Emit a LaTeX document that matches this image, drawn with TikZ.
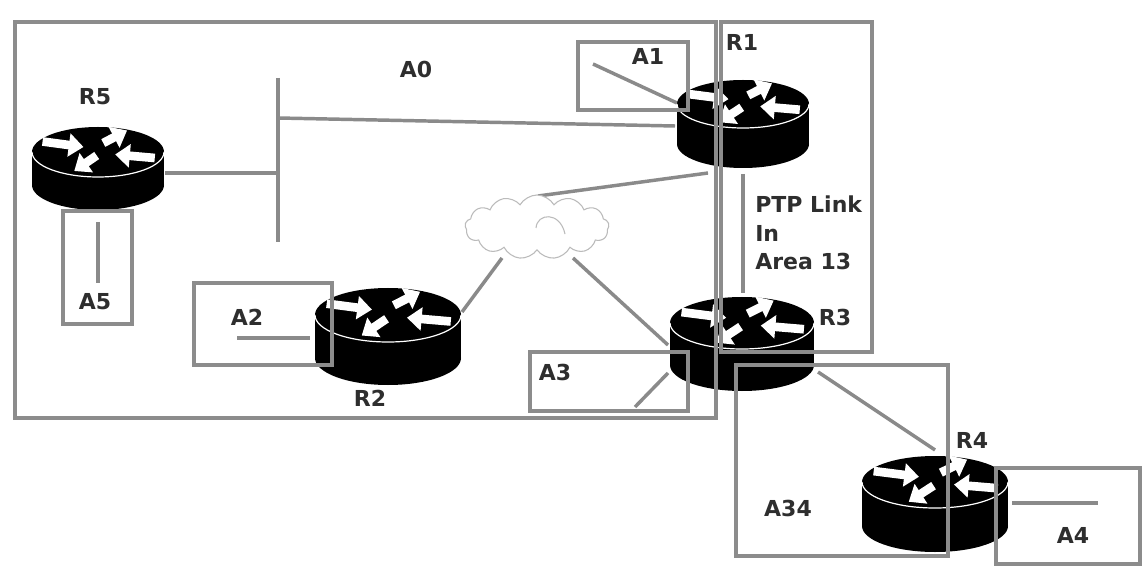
\documentclass[tikz,border=0pt]{standalone}
\usepackage{fontspec}
\usetikzlibrary{shapes.symbols,arrows.meta}
\newfontfamily\lab{DejaVu Sans}
\definecolor{boxgray}{HTML}{8C8C8C}
\definecolor{linegray}{HTML}{8A8A8A}
\definecolor{txt}{HTML}{2E2E2E}
\definecolor{cloudline}{HTML}{BBBBBB}
\tikzset{
  areabox/.style={draw=boxgray,line width=2.4pt},
  conn/.style={draw=linegray,line width=2.6pt},
  rarrow/.style={white,line width=6.5pt,-{Triangle[width=17pt,length=11pt]}},
  lbl/.style={inner sep=0pt,text=txt,font=\lab\bfseries\fontsize{16.5}{19}\selectfont},
}
\newcommand\drawrouter[6]{% name cx cy rx ry h
  \coordinate (#1) at (#2,#3);
  \begin{scope}[shift={(#2,#3)}]
    \fill[black] (0,#6) ellipse[x radius=#4,y radius=#5];
    \fill[black] (-#4,0) rectangle (#4,#6);
    \fill[black] (0,0) ellipse[x radius=#4,y radius=#5];
    \draw[white,line width=0.9pt] (-#4,0) arc[start angle=180,end angle=0,x radius=#4,y radius=#5];
    \begin{scope}[xscale=#4,yscale=#5]
      \draw[rarrow] (-0.84,-0.42) -- (-0.22,-0.20);
      \draw[rarrow] (0.08,-0.36) -- (0.44,-0.86);
      \draw[rarrow] (0.86,0.24) -- (0.26,0.10);
      \draw[rarrow] (-0.02,0.14) -- (-0.36,0.76);
    \end{scope}
  \end{scope}}
\begin{document}
\begin{tikzpicture}[x=0.75pt,y=-0.75pt]
\useasboundingbox (0,0) rectangle (1148,573);
\fill[white] (0,0) rectangle (1148,573);

% connector end points
\coordinate (r5out) at (165,173);
\coordinate (busm) at (278,173);
\coordinate (bustop) at (278,78);
\coordinate (busbot) at (278,242);
\coordinate (busr1) at (278,118);
\coordinate (r1w) at (675,126);
\coordinate (a1in) at (593,64);
\coordinate (r1a1) at (677,103);
\coordinate (cloudtop) at (538,196);
\coordinate (r1s) at (708,173);
\coordinate (cloudsw) at (502,258);
\coordinate (r2ne) at (462,312);
\coordinate (cloudse) at (573,258);
\coordinate (r3nw) at (668,345);
\coordinate (a3in) at (635,407);
\coordinate (r3sw) at (668,373);
\coordinate (ptptop) at (743,174);
\coordinate (ptpbot) at (743,293);
\coordinate (r3se) at (818,372);
\coordinate (r4nw) at (935,450);
\coordinate (r4e) at (1012,503);
\coordinate (a4in) at (1098,503);
\coordinate (a2in) at (237,338);
\coordinate (r2w) at (310,338);
\coordinate (r5s) at (98,222);
\coordinate (a5in) at (98,283);

% connectors
\draw[conn] (r5out) -- (busm);
\draw[conn] (bustop) -- (busbot);
\draw[conn] (busr1) -- (r1w);
\draw[conn] (a1in) -- (r1a1);
\draw[conn] (cloudtop) -- (r1s);
\draw[conn] (cloudsw) -- (r2ne);
\draw[conn] (cloudse) -- (r3nw);
\draw[conn] (a3in) -- (r3sw);
\draw[conn] (ptptop) -- (ptpbot);
\draw[conn] (r3se) -- (r4nw);
\draw[conn] (r4e) -- (a4in);
\draw[conn] (a2in) -- (r2w);
\draw[conn] (r5s) -- (a5in);

% cloud
\node[cloud, cloud puffs=13, cloud puff arc=120, aspect=2.3, draw=cloudline, fill=white,
      line width=0.8pt, minimum width=108pt, minimum height=48pt, inner sep=0pt] (cloud) at (537,227) {};
\draw[cloudline,line width=0.8pt] (536,228) .. controls (537,213) and (560,211) .. (565,234);

% routers
\drawrouter{R5}{98}{152}{66}{25}{33}
\drawrouter{R1}{743}{104}{66}{24}{40}
\drawrouter{R2}{388}{315}{73}{27}{43}
\drawrouter{R3}{742}{323}{72}{26}{42}
\drawrouter{R4}{935}{482}{73}{26}{44}

% area boxes
\draw[areabox] (15,22) rectangle (716,418);
\draw[areabox] (721,22) rectangle (872,352);
\draw[areabox] (578,42) rectangle (688,110);
\draw[areabox] (63,211) rectangle (132,324);
\draw[areabox] (194,283) rectangle (332,365);
\draw[areabox] (530,352) rectangle (688,411);
\draw[areabox] (736,365) rectangle (948,556);
\draw[areabox] (996,468) rectangle (1140,564);

% labels
\node[lbl] (tR5) at (95,97) {R5};
\node[lbl] (tA0) at (416,69) {A0};
\node[lbl] (tA1) at (648,56) {A1};
\node[lbl] (tR1) at (742,42) {R1};
\node[lbl,anchor=base west] (tP1) at (755,213) {PTP Link};
\node[lbl,anchor=base west] (tP2) at (755,242) {In};
\node[lbl,anchor=base west] (tP3) at (755,270) {Area 13};
\node[lbl] (tR3) at (835,317) {R3};
\node[lbl] (tA2) at (247,317) {A2};
\node[lbl] (tR2) at (370,398) {R2};
\node[lbl] (tA3) at (555,372) {A3};
\node[lbl] (tR4) at (972,440) {R4};
\node[lbl] (tA34) at (788,508) {A34};
\node[lbl] (tA4) at (1073,535) {A4};
\node[lbl] (tA5) at (95,302) {A5};
\end{tikzpicture}
\end{document}
